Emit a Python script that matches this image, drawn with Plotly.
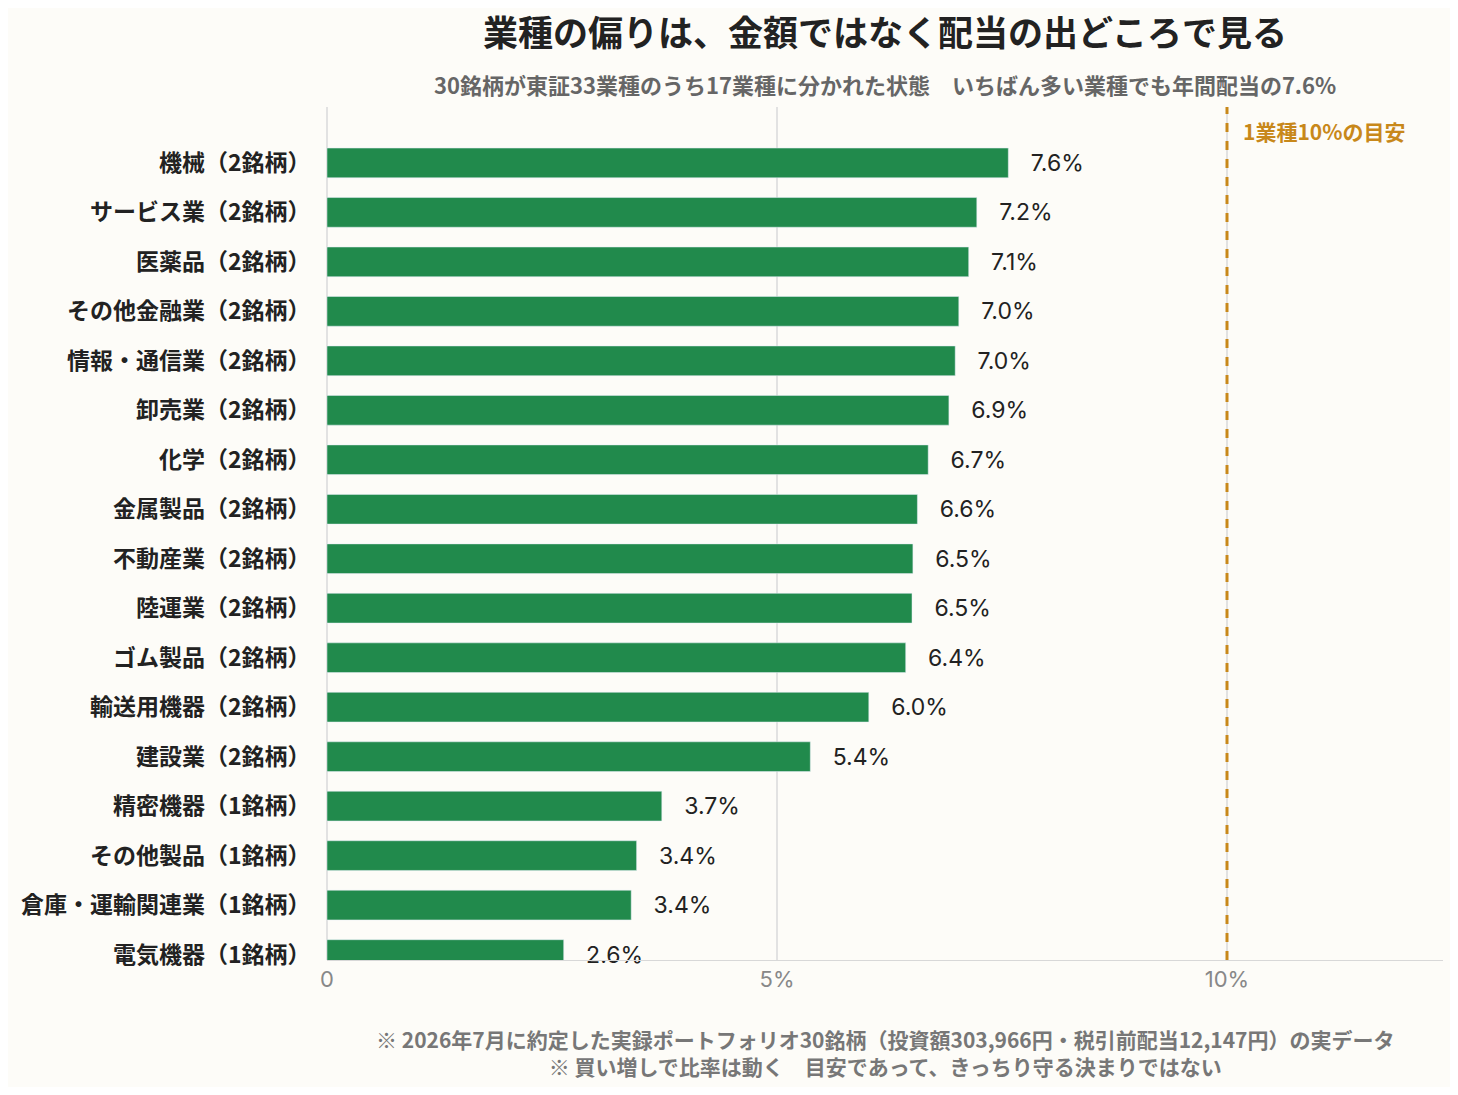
import plotly.graph_objects as go

FONT = "Noto Sans CJK JP"

sectors = ['機械（2銘柄）', 'サービス業（2銘柄）', '医薬品（2銘柄）', 'その他金融業（2銘柄）',
           '情報・通信業（2銘柄）', '卸売業（2銘柄）', '化学（2銘柄）', '金属製品（2銘柄）',
           '不動産業（2銘柄）', '陸運業（2銘柄）', 'ゴム製品（2銘柄）', '輸送用機器（2銘柄）',
           '建設業（2銘柄）', '精密機器（1銘柄）', 'その他製品（1銘柄）', '倉庫・運輸関連業（1銘柄）',
           '電気機器（1銘柄）']
shares = [7.6, 7.2, 7.1, 7.0, 7.0, 6.9, 6.7, 6.6, 6.5, 6.5, 6.4, 6.0, 5.4, 3.7, 3.4, 3.4, 2.6]
# bar lengths (labels are the rounded values)
share_bar = [7.57, 7.22, 7.13, 7.02, 6.98, 6.91, 6.68, 6.56, 6.51, 6.50, 6.43, 6.02, 5.37, 3.72, 3.44, 3.38, 2.63]
tick_vals = [0, 5, 10]
tick_text = ['0', '5%', '10%']
guide = 10

fig = go.Figure(go.Bar(
    x=share_bar, y=sectors, orientation='h',
    marker_color='#218a4c', width=0.6,
    text=[f'   {v:.1f}%' for v in shares], textposition='outside',
    textfont=dict(size=23, color='#222222', family='Inter'),
    cliponaxis=False,
))
fig.add_shape(type='line', x0=guide, x1=guide, y0=0, y1=1, yref='paper',
              line=dict(color='#c8881a', width=3, dash='dash'))
fig.add_annotation(x=guide, y=1, yref='paper', xanchor='left', yanchor='middle',
                   xshift=14, yshift=-24, showarrow=False, text='<b>1業種10%の目安</b>',
                   font=dict(size=21, color='#c8881a', family=FONT))
fig.add_annotation(x=0.5, y=1, xref='paper', yref='paper', yanchor='middle', yshift=77,
                   showarrow=False,
                   text='<b>業種の偏りは、金額ではなく配当の出どころで見る</b>',
                   font=dict(size=35, color='#222222', family=FONT))
fig.add_annotation(x=0.5, y=1, xref='paper', yref='paper', yanchor='middle', yshift=23,
                   showarrow=False,
                   text='<b>30銘柄が東証33業種のうち17業種に分かれた状態　いちばん多い業種でも年間配当の7.6%</b>',
                   font=dict(size=22, color='#666666', family=FONT))
fig.add_annotation(x=0.5, y=0, xref='paper', yref='paper', yanchor='middle', yshift=-92,
                   showarrow=False,
                   text='<b>※ 2026年7月に約定した実録ポートフォリオ30銘柄（投資額303,966円・税引前配当12,147円）の実データ</b>'
                        '<br><b>※ 買い増しで比率は動く　目安であって、きっちり守る決まりではない</b>',
                   font=dict(size=21, color='#777777', family=FONT), align='center')
fig.update_layout(
    width=1442, height=1079, paper_bgcolor='#fdfcf8', plot_bgcolor='#fdfcf8',
    margin=dict(l=319, r=7, t=99, b=127), showlegend=False,
    font=dict(family=FONT),
    xaxis=dict(range=[0, 12.4], tickvals=tick_vals, ticktext=tick_text,
               showgrid=True, gridcolor='#e2e2e2', gridwidth=1.5, zeroline=True,
               zerolinecolor='#e2e2e2', showline=True, linecolor='#d8d8d8',
               tickfont=dict(size=22, color='#888888', family='Inter'), ticks=''),
    yaxis=dict(tickfont=dict(size=23, color='#222222'),
               range=[16.11, -1.13]),
)
fig.update_yaxes(tickprefix='<b>', ticksuffix='</b>   ')
fig.write_html("out.html")
